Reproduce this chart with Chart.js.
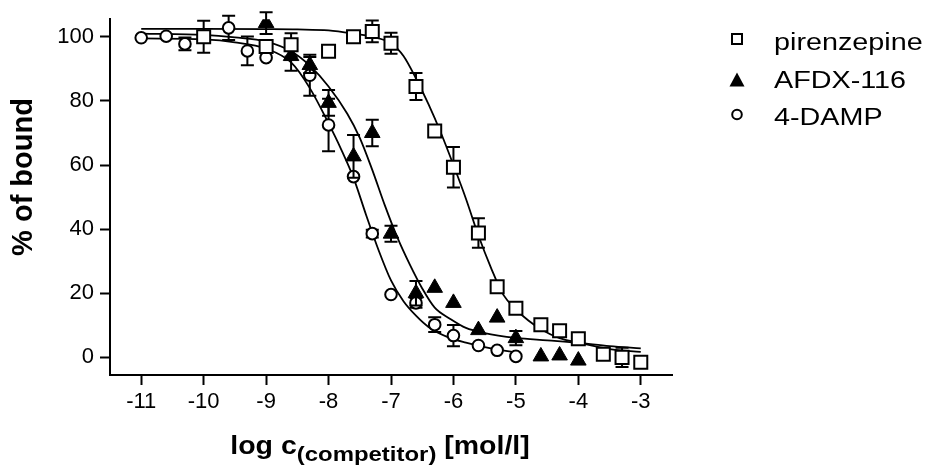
<!DOCTYPE html>
<html>
<head>
<meta charset="utf-8">
<title>Competition binding</title>
<script src="https://cdn.jsdelivr.net/npm/chart.js"></script>
<style>
  html, body { margin: 0; padding: 0; background: #fff; }
  canvas { display: block; }
</style>
</head>
<body>
<canvas id="bindingChart" width="932" height="468"></canvas>
<script>
// measured points: log c, % of bound and the error (+/-) for each point
const pirenzepineX = [-10, -9, -8.6, -8, -7.6, -7.3, -7, -6.6, -6.3, -6, -5.6, -5.3, -5, -4.6, -4.3, -4, -3.6, -3.3, -3];
const pirenzepineY = [100, 97, 97.5, 95.5, 100, 101.7, 98, 84.5, 70.6, 59.3, 38.8, 22, 15.3, 10.2, 8.3, 5.8, 1, 0, -1.5];
const pirenzepineErr = [5, 0, 3.6, 0, 0, 3.4, 3.3, 4.2, 0, 6.3, 4.6, 0, 0, 0, 1.5, 0, 0, 3, 0];

const afdxX = [-9, -8.6, -8.3, -8, -7.6, -7.3, -7, -6.6, -6.3, -6, -5.6, -5.3, -5, -4.6, -4.3, -4];
const afdxY = [104.3, 94, 91.2, 79.4, 62.7, 70, 38.6, 20, 21.7, 17, 8.5, 12.4, 6, 0.3, 0.6, -1];
const afdxErr = [3.4, 4.6, 2.5, 4, 6.7, 4.1, 2.5, 3.8, 0, 0, 0, 0, 2.2, 0, 0, 0];

const dampX = [-11, -10.6, -10.3, -9.6, -9.3, -9, -8.3, -8, -7.6, -7.3, -7, -6.6, -6.3, -6, -5.6, -5.3, -5];
const dampY = [99.7, 100.2, 97.8, 102.8, 95.6, 93.5, 88, 72.5, 56.4, 38.6, 19.6, 17, 10.2, 6.8, 3.7, 2.2, 0.3];
const dampErr = [0, 0, 2, 3.8, 4.5, 0, 6.4, 8.2, 0, 1.2, 0, 1.5, 2.3, 3.3, 0, 0, 0];

// fitted curves, sampled along each line
const pirenzepineCurveX = [-11, -10, -9, -8.5, -8, -7.6, -7.3, -7, -6.8, -6.6, -6.4, -6.2, -6, -5.8, -5.6, -5.4, -5.2, -5, -4.8, -4.6, -4.3, -4, -3.5, -3];
const pirenzepineCurveY = [102.5, 102.5, 102.4, 102.3, 102, 101, 100, 98, 94, 87, 79, 70, 60, 49.5, 38, 28, 19.5, 15, 11.5, 8.8, 6, 4.6, 2.6, 1.7];

const afdxCurveX = [-11, -10, -9.5, -9, -8.6, -8.3, -8, -7.7, -7.5, -7.3, -7.1, -6.9, -6.7, -6.5, -6.3, -6.05, -5.8, -5.5, -5, -4.5, -4, -3.5, -3];
const afdxCurveY = [101, 100.6, 99.8, 98.5, 95.5, 91, 84.5, 76, 68.5, 58.5, 47.5, 37.5, 29, 21.5, 15.5, 12, 9.2, 7.6, 6.1, 5.3, 4.5, 3.5, 2.8];

const dampCurveX = [-11, -10, -9.5, -9, -8.6, -8.3, -8, -7.8, -7.6, -7.4, -7.2, -7, -6.8, -6.6, -6.4, -6.1, -5.8, -5.4, -5];
const dampCurveY = [99.5, 99.2, 98.3, 96.3, 92, 84, 73, 65, 56, 44.5, 33.5, 24, 17.5, 13, 9.5, 6.4, 4.6, 2.8, 1.6];

const xTicks = [-11, -10, -9, -8, -7, -6, -5, -4, -3];
const yTicks = [0, 20, 40, 60, 80, 100];
const legendLabels = ['pirenzepine', 'AFDX-116', '4-DAMP'];

const FONT = "'Liberation Sans', Arial, Helvetica, sans-serif";

const toPoints = (xs, ys) => xs.map((x, i) => ({ x: x, y: ys[i] }));

// vertical error bars with caps, drawn just before each marker set
const errorBars = {
    id: 'errorBars',
    beforeDatasetDraw(chart, args) {
        const ds = chart.data.datasets[args.index];
        if (!ds.errors) return;
        const { ctx, scales: { x, y } } = chart;
        ctx.save();
        ctx.strokeStyle = '#000';
        ctx.lineWidth = 2;
        ds.data.forEach((p, i) => {
            const e = ds.errors[i];
            if (!e) return;
            const px = x.getPixelForValue(p.x);
            const top = y.getPixelForValue(p.y + e);
            const bottom = y.getPixelForValue(p.y - e);
            ctx.beginPath();
            ctx.moveTo(px, top);
            ctx.lineTo(px, bottom);
            ctx.moveTo(px - 6.5, top);
            ctx.lineTo(px + 6.5, top);
            ctx.moveTo(px - 6.5, bottom);
            ctx.lineTo(px + 6.5, bottom);
            ctx.stroke();
        });
        ctx.restore();
    }
};

// axis titles (the x title needs a subscript, so both are drawn here)
const axisTitles = {
    id: 'axisTitles',
    afterDraw(chart) {
        const ctx = chart.ctx;
        ctx.save();
        ctx.fillStyle = '#000';

        // y title
        ctx.translate(24, 177);
        ctx.rotate(-Math.PI / 2);
        ctx.font = 'bold 29px ' + FONT;
        ctx.textAlign = 'center';
        ctx.textBaseline = 'middle';
        ctx.fillText('% of bound', 0, 0);
        ctx.setTransform(1, 0, 0, 1, 0, 0);

        // x title: log c(competitor) [mol/l]
        const mainFont = 'bold 25px ' + FONT;
        const subFont = 'bold 21px ' + FONT;
        ctx.font = mainFont;
        const w1 = ctx.measureText('log c').width;
        const w3 = ctx.measureText(' [mol/l]').width;
        ctx.font = subFont;
        const w2 = ctx.measureText('(competitor)').width;
        const stretch = 1.14;
        ctx.translate(380, 454);
        ctx.scale(stretch, 1);
        ctx.textAlign = 'left';
        ctx.textBaseline = 'alphabetic';
        let cx = -(w1 + w2 + w3) / 2;
        ctx.font = mainFont;
        ctx.fillText('log c', cx, 0);
        cx += w1;
        ctx.font = subFont;
        ctx.fillText('(competitor)', cx, 7);
        cx += w2;
        ctx.font = mainFont;
        ctx.fillText(' [mol/l]', cx, 0);
        ctx.restore();
    }
};

// legend at the upper right
const sideLegend = {
    id: 'sideLegend',
    afterDraw(chart) {
        const ctx = chart.ctx;
        const rows = [
            { y: 39, base: 49.5, shape: 'square' },
            { y: 80.5, base: 88.3, shape: 'triangle' },
            { y: 114.5, base: 125, shape: 'circle' }
        ];
        ctx.save();
        ctx.strokeStyle = '#000';
        ctx.fillStyle = '#000';
        ctx.lineWidth = 2;
        rows.forEach((row, i) => {
            const mx = 737;
            ctx.beginPath();
            if (row.shape === 'square') {
                ctx.rect(mx - 5, row.y - 5, 10, 10);
                ctx.stroke();
            } else if (row.shape === 'triangle') {
                ctx.moveTo(mx, row.y - 8);
                ctx.lineTo(mx + 7.5, row.y + 6);
                ctx.lineTo(mx - 7.5, row.y + 6);
                ctx.closePath();
                ctx.fill();
            } else {
                ctx.arc(mx, row.y, 4.8, 0, Math.PI * 2);
                ctx.stroke();
            }
            ctx.save();
            ctx.translate(774, row.base);
            ctx.scale(1.25, 1);
            ctx.font = '23px ' + FONT;
            ctx.textAlign = 'left';
            ctx.textBaseline = 'alphabetic';
            ctx.fillText(legendLabels[i], 0, 0);
            ctx.restore();
        });
        ctx.restore();
    }
};

const curveStyle = {
    showLine: true,
    borderColor: '#000',
    borderWidth: 1.8,
    pointRadius: 0,
    fill: false,
    cubicInterpolationMode: 'monotone',
    order: 3
};

const ctx = document.getElementById('bindingChart');
new Chart(ctx, {
    type: 'scatter',
    data: {
        datasets: [
            {
                label: legendLabels[0],
                data: toPoints(pirenzepineX, pirenzepineY),
                errors: pirenzepineErr,
                pointStyle: 'rect',
                pointRadius: 9.2,
                backgroundColor: '#fff',
                borderColor: '#000',
                borderWidth: 2,
                order: 1
            },
            {
                label: legendLabels[1],
                data: toPoints(afdxX, afdxY),
                errors: afdxErr,
                pointStyle: 'triangle',
                pointRadius: 9,
                backgroundColor: '#000',
                borderColor: '#000',
                borderWidth: 1,
                order: 1
            },
            {
                label: legendLabels[2],
                data: toPoints(dampX, dampY),
                errors: dampErr,
                pointStyle: 'circle',
                pointRadius: 5.8,
                backgroundColor: '#fff',
                borderColor: '#000',
                borderWidth: 2,
                order: 1
            },
            Object.assign({ label: 'pirenzepine fit', data: toPoints(pirenzepineCurveX, pirenzepineCurveY) }, curveStyle),
            Object.assign({ label: 'AFDX-116 fit', data: toPoints(afdxCurveX, afdxCurveY) }, curveStyle),
            Object.assign({ label: '4-DAMP fit', data: toPoints(dampCurveX, dampCurveY) }, curveStyle)
        ]
    },
    options: {
        responsive: false,
        animation: false,
        layout: { padding: { top: 15, right: 260, left: 0, bottom: 0 } },
        plugins: {
            legend: { display: false },
            tooltip: { enabled: false }
        },
        scales: {
            x: {
                type: 'linear',
                min: -11.5,
                max: -2.5,
                afterBuildTicks: (scale) => { scale.ticks = xTicks.map(v => ({ value: v })); },
                afterFit: (scale) => { scale.height = 93; },
                grid: { drawOnChartArea: false, tickLength: 10, tickWidth: 2, tickColor: '#000' },
                border: { color: '#000', width: 2 },
                ticks: { color: '#000', font: { family: FONT, size: 22 }, padding: 4, maxRotation: 0 }
            },
            y: {
                min: -5.5,
                max: 105.5,
                afterBuildTicks: (scale) => { scale.ticks = yTicks.map(v => ({ value: v })); },
                afterFit: (scale) => { scale.width = 110; },
                grid: { drawOnChartArea: false, tickLength: 10, tickWidth: 2, tickColor: '#000' },
                border: { color: '#000', width: 2 },
                ticks: { color: '#000', font: { family: FONT, size: 22 }, padding: 6 }
            }
        }
    },
    plugins: [errorBars, axisTitles, sideLegend]
});
</script>
</body>
</html>
